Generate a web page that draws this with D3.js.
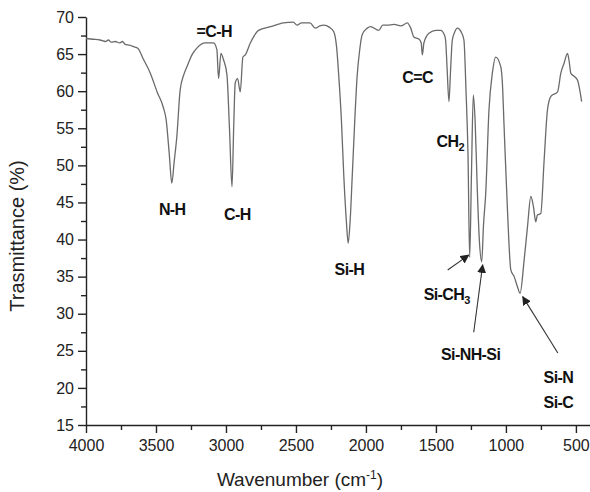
<!DOCTYPE html>
<html>
<head>
<meta charset="utf-8">
<script src="https://cdn.jsdelivr.net/npm/d3@7"></script>
<style>
  body { margin: 0; background: #fff; }
  text { font-family: "Liberation Sans", Arial, sans-serif; }
  .axis path, .axis line { stroke: #222; stroke-width: 1.4; }
  .axis text { font-size: 16px; fill: #222; }
  .peak { font-size: 16px; font-weight: bold; fill: #111; letter-spacing: -0.6px; }
</style>
</head>
<body>
<svg id="chart" width="590" height="492"></svg>
<script>
// spectrum (wavenumber in cm-1, transmittance in %)
const wavenumber = [
  4000, 3950, 3900, 3860, 3840, 3820, 3790, 3760, 3740, 3720, 3690, 3660, 3630,
  3590, 3542, 3490, 3449, 3427, 3405, 3387, 3370, 3351, 3327, 3300, 3279, 3240,
  3208, 3148, 3089, 3065, 3053, 3036, 3017, 2993, 2975, 2957, 2945, 2934, 2917,
  2898, 2879, 2862, 2826, 2767, 2683, 2588, 2520, 2492, 2460, 2400, 2361, 2330,
  2302, 2260, 2230, 2210, 2194, 2175, 2158, 2140, 2127, 2113, 2098, 2080, 2063,
  2045, 2027, 1990, 1967, 1908, 1880, 1848, 1800, 1750, 1705, 1680, 1658, 1620,
  1605, 1597, 1586, 1550, 1500, 1466, 1440, 1431, 1420, 1407, 1395, 1383, 1365,
  1347, 1320, 1300, 1285, 1271, 1259, 1246, 1233, 1220, 1205, 1190, 1173, 1160,
  1144, 1121, 1097, 1073, 1037, 1025, 1013, 989, 965, 941, 917, 899, 870, 846,
  822, 803, 787, 775, 751, 727, 703, 679, 631, 608, 584, 560, 548, 536, 512,
  489, 459
]
const transmittance = [
  67.1, 67.0, 66.9, 66.7, 66.9, 66.6, 66.7, 66.5, 66.7, 66.3, 66.2, 66.0, 65.8,
  64.3, 62.5, 59.8, 57.9, 56.1, 51.5, 47.6, 50.5, 53.9, 60.2, 62.3, 63.3, 65.0,
  65.8, 66.5, 66.5, 65.6, 61.7, 65.1, 64.2, 62.2, 55.0, 47.1, 55.0, 61.1, 61.7,
  59.9, 64.6, 64.9, 66.5, 68.2, 68.7, 69.2, 69.3, 68.9, 69.2, 69.2, 68.5, 68.8,
  68.9, 68.6, 68.0, 66.0, 62.0, 56.0, 48.5, 42.5, 39.5, 42.5, 48.5, 56.0, 62.0,
  65.5, 67.6, 68.5, 68.7, 68.2, 68.9, 68.9, 69.0, 68.8, 69.2, 68.5, 67.3, 67.0,
  66.5, 64.9, 66.5, 67.8, 68.2, 68.2, 67.6, 66.9, 63.0, 58.6, 63.0, 66.9, 68.0,
  68.5, 68.0, 66.9, 60.0, 51.6, 37.6, 49.0, 59.5, 56.0, 47.0, 40.0, 37.0, 42.0,
  46.3, 57.5, 62.4, 64.6, 63.3, 61.0, 55.2, 44.0, 35.9, 35.0, 33.6, 32.75, 37.2, 41.7,
  45.8, 44.4, 42.4, 43.3, 43.5, 50.7, 57.5, 59.3, 59.9, 62.4, 63.8, 65.1, 64.0, 62.4, 62.0,
  61.5, 58.6
]

// axis ticks
const xMajor = [4000, 3500, 3000, 2500, 2000, 1500, 1000, 500]
const xMinor = [3750, 3250, 2750, 2250, 1750, 1250, 750]
const yMajor = [15, 20, 25, 30, 35, 40, 45, 50, 55, 60, 65, 70]
const yMinor = [17.5, 22.5, 27.5, 32.5, 37.5, 42.5, 47.5, 52.5, 57.5, 62.5, 67.5]

// band labels: text, subscript, anchor wavenumber, anchor transmittance
const peakText = ['N-H', '=C-H', 'C-H', 'Si-H', 'C=C', 'CH', 'Si-CH', 'Si-NH-Si', 'Si-N', 'Si-C']
const peakSub = ['', '', '', '', '', '2', '3', '', '', '']
const peakWn = [3384, 3084, 2919, 2118, 1631, 1398, 1423, 1252, 625, 625]
const peakT = [43.3, 67.3, 42.6, 35.2, 61.1, 52.5, 31.85, 23.8, 20.66, 17.3]

// arrows: from (wn, T) to (wn, T)
const arrowFrom = [[1416, 35.9], [1230, 27.5], [629, 24.7]]
const arrowTo = [[1266, 37.9], [1166, 36.6], [880, 32.3]]

const svg = d3.select('#chart')
const x = d3.scaleLinear().domain([4000, 400]).range([86, 589.9])
const y = d3.scaleLinear().domain([15, 70]).range([425, 17])

// axes
const gx = svg.append('g').attr('class', 'axis').attr('transform', 'translate(0,425)')
gx.call(d3.axisBottom(x).tickValues(xMajor).tickFormat(d3.format('d'))
  .tickSize(8).tickSizeOuter(0).tickPadding(7))
svg.append('g').attr('class', 'axis').attr('transform', 'translate(0,425)')
  .call(d3.axisBottom(x).tickValues(xMinor).tickSize(5).tickSizeOuter(0).tickFormat(''))
  .select('.domain').remove()

const gy = svg.append('g').attr('class', 'axis').attr('transform', 'translate(86,0)')
gy.call(d3.axisLeft(y).tickValues(yMajor).tickFormat(d3.format('d'))
  .tickSize(8).tickSizeOuter(0).tickPadding(4))
svg.append('g').attr('class', 'axis').attr('transform', 'translate(86,0)')
  .call(d3.axisLeft(y).tickValues(yMinor).tickSize(5).tickSizeOuter(0).tickFormat(''))
  .select('.domain').remove()

// axis titles
svg.append('text')
  .attr('x', 300).attr('y', 486)
  .attr('text-anchor', 'middle')
  .style('font-size', '19px').style('fill', '#222')
  .html('Wavenumber (cm<tspan dy="-7" font-size="12">-1</tspan><tspan dy="7">)</tspan>')

svg.append('text')
  .attr('transform', 'translate(24,236) rotate(-90)')
  .attr('text-anchor', 'middle')
  .style('font-size', '20px').style('fill', '#222')
  .text('Trasmittance (%)')

// spectrum
const line = d3.line()
  .x((d, i) => x(wavenumber[i]))
  .y((d) => y(d))
  .curve(d3.curveMonotoneX)

svg.append('path')
  .datum(transmittance)
  .attr('d', line)
  .attr('fill', 'none')
  .attr('stroke', '#6a6a6a')
  .attr('stroke-width', 1.3)

// band labels
peakText.forEach((t, i) => {
  let lbl = svg.append('text')
    .attr('class', 'peak')
    .attr('x', x(peakWn[i]))
    .attr('y', y(peakT[i]))
    .attr('text-anchor', 'middle')
  lbl.append('tspan').text(t)
  if (peakSub[i]) {
    lbl.append('tspan').attr('dy', 4).style('font-size', '11px').text(peakSub[i])
  }
})

// arrows
svg.append('defs').append('marker')
  .attr('id', 'head')
  .attr('viewBox', '0 0 10 10')
  .attr('refX', 9).attr('refY', 5)
  .attr('markerWidth', 9).attr('markerHeight', 9)
  .attr('markerUnits', 'userSpaceOnUse')
  .attr('orient', 'auto')
  .append('path')
  .attr('d', 'M0,0 L10,5 L0,10 Z')
  .attr('fill', '#222')

arrowFrom.forEach((f, i) => {
  svg.append('line')
    .attr('x1', x(f[0])).attr('y1', y(f[1]))
    .attr('x2', x(arrowTo[i][0])).attr('y2', y(arrowTo[i][1]))
    .attr('stroke', '#333')
    .attr('stroke-width', 1.1)
    .attr('marker-end', 'url(#head)')
})
</script>
</body>
</html>
